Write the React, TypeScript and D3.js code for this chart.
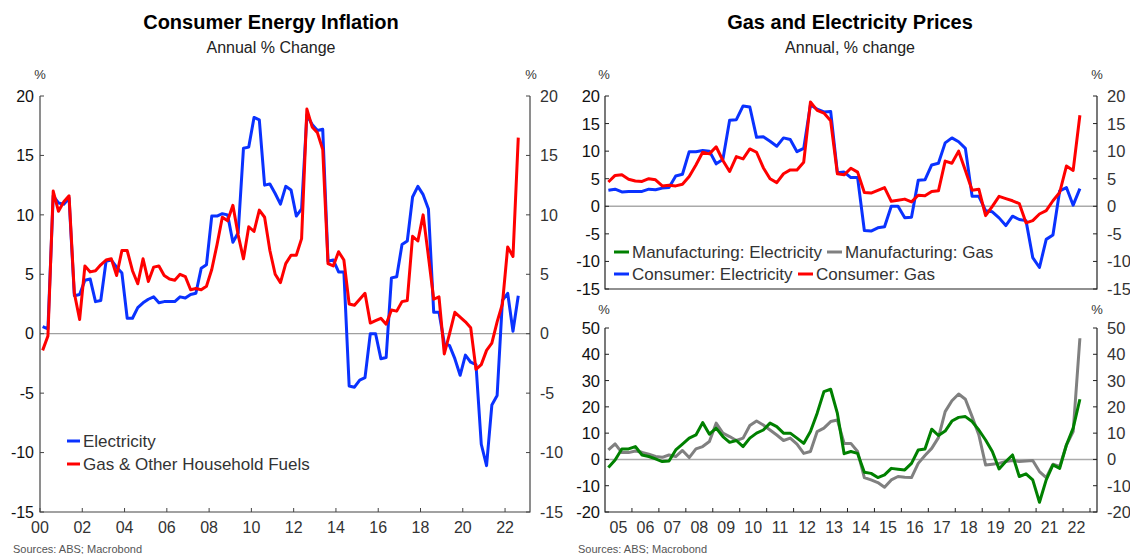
import { useRef, useEffect, RefObject } from 'react';
import * as d3 from 'd3';

// Quarterly, 2000Q1 .. 2022Q3 (annual % change)
const consumerElectricity: number[] = [
  0.6, 0.4, 11.6, 11.0, 10.9, 11.4, 3.2, 3.3, 4.5, 4.6, 2.7, 2.8, 6.1, 6.2, 5.6, 5.1,
  1.3, 1.3, 2.2, 2.6, 2.9, 3.1, 2.6, 2.7, 2.7, 2.7, 3.1, 3.0, 3.3, 3.4, 5.5, 5.8,
  9.9, 9.9, 10.1, 10.0, 7.7, 8.5, 15.6, 15.7, 18.2, 18.0, 12.5, 12.6, 11.8, 10.9, 12.4, 12.1,
  9.9, 10.5, 18.4, 17.6, 17.1, 17.2, 6.1, 6.2, 5.2, 5.2, -4.4, -4.5, -3.9, -3.7, 0.0, 0.0,
  -2.1, -2.0, 4.7, 4.8, 7.5, 7.8, 11.5, 12.4, 11.7, 10.5, 1.8, 1.8, -0.8, -1.0, -2.1, -3.5,
  -1.8, -2.4, -2.6, -9.3, -11.1, -6.0, -5.2, 2.8, 3.4, 0.2, 3.2,
];
const consumerGas: number[] = [
  -1.4, -0.2, 12.0, 10.3, 11.1, 11.6, 3.4, 1.2, 5.7, 5.2, 5.3, 5.8, 6.2, 6.3, 4.9, 7.0,
  7.0, 5.3, 4.2, 6.3, 4.4, 5.6, 5.7, 4.9, 4.6, 4.5, 5.0, 4.8, 3.7, 3.8, 3.7, 4.0,
  5.4, 7.5, 9.8, 9.5, 10.8, 8.3, 6.3, 9.0, 8.6, 10.4, 9.8, 7.0, 5.0, 4.3, 5.9, 6.6,
  6.6, 8.0, 18.9, 17.4, 16.9, 15.5, 5.9, 5.7, 6.9, 6.2, 2.5, 2.4, 2.9, 3.4, 0.9, 1.1,
  1.3, 0.8, 2.0, 1.9, 2.7, 2.8, 8.2, 7.8, 10.0, 6.5, 2.9, 3.1, -1.7, 0.0, 1.8, 1.4,
  1.0, 0.5, -3.0, -2.6, -1.4, -0.8, 1.0, 2.5, 7.3, 6.5, 16.5,
];
// Quarterly, 2005Q1 .. 2022Q3
const mfgElectricity: number[] = [
  -3.1, -0.2, 4.0, 4.0, 4.9, 1.7, 1.1, 0.2, -0.8, -0.6, 3.6, 5.8, 8.1, 9.3, 14.0, 9.6,
  11.9, 8.7, 6.5, 7.2, 4.9, 8.1, 10.0, 11.2, 13.8, 12.5, 10.0, 10.0, 8.1, 6.1, 10.6, 17.6,
  25.8, 26.7, 17.5, 2.2, 3.0, 2.3, -4.9, -5.3, -6.9, -5.9, -3.4, -3.7, -4.0, -1.5, 3.6, 4.0,
  11.5, 9.1, 10.8, 14.6, 16.0, 16.3, 14.4, 11.2, 7.4, 3.0, -3.6, -0.8, 1.7, -6.5, -5.5, -7.8,
  -16.3, -7.8, -2.1, -3.4, 5.5, 11.9, 22.9,
];
const mfgGas: number[] = [
  3.6, 5.9, 2.6, 2.6, 3.2, 2.7, 2.0, 1.1, 0.8, 1.7, 1.1, 3.4, 0.7, 4.0, 4.9, 6.8,
  13.8, 10.0, 8.7, 7.2, 8.1, 12.9, 14.6, 13.1, 11.2, 9.3, 7.2, 8.1, 5.8, 2.3, 3.0, 10.6,
  11.9, 14.4, 15.0, 6.1, 6.1, 3.0, -6.9, -7.8, -8.8, -10.6, -7.8, -6.5, -6.8, -6.9, -1.5, 1.5,
  4.2, 8.3, 18.2, 22.3, 24.9, 22.9, 16.3, 9.3, -2.1, -1.8, -1.5, -0.8, -0.4, -0.8, -0.6, -0.4,
  -4.6, -6.9, -1.8, -2.7, 5.5, 10.6, 46.1,
];

const leftYTicks: number[] = [-15, -10, -5, 0, 5, 10, 15, 20];
const leftXTicks: number[] = [2000, 2002, 2004, 2006, 2008, 2010, 2012, 2014, 2016, 2018, 2020, 2022];
const topYTicks: number[] = [-15, -10, -5, 0, 5, 10, 15, 20];
const bottomYTicks: number[] = [-20, -10, 0, 10, 20, 30, 40, 50];
const rightYears: number[] = d3.range(2005, 2023);

const FONT = "'Liberation Sans', Arial, Helvetica, sans-serif";
const BLUE = '#0a32ff';
const RED = '#ff0000';
const GREEN = '#008000';
const GREY = '#808080';

type Pt = [number, number];
const toSeries = (vals: number[], startYear: number): Pt[] =>
  vals.map((v, i) => [startYear + i * 0.25 + 0.125, v]);

const Chart = () => {
  const svgRef: RefObject<SVGSVGElement> = useRef(null);

  useEffect(() => {
    const svg = d3.select(svgRef.current);
    svg.selectAll('*').remove();
    svg.attr('font-family', FONT);

    const axisColor = '#444';

    // ---------- Left chart ----------
    const xL = d3.scaleLinear().domain([2000, 2023.18]).range([40, 530]);
    const yL = d3.scaleLinear().domain([-15, 20]).range([512, 96]);
    const gl = svg.append('g');

    gl.append('text').attr('x', 271).attr('y', 29).attr('text-anchor', 'middle')
      .attr('font-size', 20).attr('font-weight', 'bold').text('Consumer Energy Inflation');
    gl.append('text').attr('x', 271).attr('y', 53).attr('text-anchor', 'middle')
      .attr('font-size', 16).attr('fill', '#222').text('Annual % Change');

    gl.append('line').attr('x1', xL.range()[0]).attr('x2', xL.range()[1])
      .attr('y1', yL(0)).attr('y2', yL(0)).attr('stroke', '#888').attr('stroke-width', 1);

    // axes frame
    gl.append('path')
      .attr('d', `M${xL.range()[0]},${yL(20)}V${yL(-15)}H${xL.range()[1]}V${yL(20)}`)
      .attr('fill', 'none').attr('stroke', axisColor).attr('stroke-width', 1.2);

    leftYTicks.forEach((t) => {
      gl.append('line').attr('x1', xL.range()[0]).attr('x2', xL.range()[0] + 4)
        .attr('y1', yL(t)).attr('y2', yL(t)).attr('stroke', axisColor);
      gl.append('line').attr('x1', xL.range()[1]).attr('x2', xL.range()[1] - 4)
        .attr('y1', yL(t)).attr('y2', yL(t)).attr('stroke', axisColor);
      gl.append('text').attr('x', 34).attr('y', yL(t)).attr('dy', '0.36em')
        .attr('text-anchor', 'end').attr('font-size', 16).attr('fill', '#111').text(String(t));
      gl.append('text').attr('x', 540).attr('y', yL(t)).attr('dy', '0.36em')
        .attr('text-anchor', 'start').attr('font-size', 16).attr('fill', '#333').text(String(t));
    });
    leftXTicks.forEach((t) => {
      gl.append('line').attr('x1', xL(t)).attr('x2', xL(t))
        .attr('y1', yL(-15)).attr('y2', yL(-15) - 4).attr('stroke', axisColor);
      gl.append('text').attr('x', xL(t)).attr('y', 533).attr('text-anchor', 'middle')
        .attr('font-size', 16).attr('fill', '#333').text(String(t % 100).padStart(2, '0'));
    });
    gl.append('text').attr('x', 40).attr('y', 79).attr('text-anchor', 'middle')
      .attr('font-size', 13).attr('fill', '#333').text('%');
    gl.append('text').attr('x', 531).attr('y', 79).attr('text-anchor', 'middle')
      .attr('font-size', 13).attr('fill', '#333').text('%');

    const lineL = d3.line<Pt>().x((d) => xL(d[0])).y((d) => yL(d[1])).curve(d3.curveLinear);
    gl.append('path').attr('d', lineL(toSeries(consumerElectricity, 2000)))
      .attr('fill', 'none').attr('stroke', BLUE).attr('stroke-width', 3).attr('stroke-linejoin', 'round');
    gl.append('path').attr('d', lineL(toSeries(consumerGas, 2000)))
      .attr('fill', 'none').attr('stroke', RED).attr('stroke-width', 3).attr('stroke-linejoin', 'round');

    const legL = [
      { label: 'Electricity', color: BLUE, y: 441 },
      { label: 'Gas & Other Household Fuels', color: RED, y: 464 },
    ];
    legL.forEach((l) => {
      gl.append('line').attr('x1', 67).attr('x2', 80).attr('y1', l.y).attr('y2', l.y)
        .attr('stroke', l.color).attr('stroke-width', 3);
      gl.append('text').attr('x', 83).attr('y', l.y).attr('dy', '0.36em')
        .attr('font-size', 17).attr('fill', '#333').text(l.label);
    });
    gl.append('text').attr('x', 13).attr('y', 553).attr('font-size', 11).attr('fill', '#555')
      .text('Sources: ABS; Macrobond');

    // ---------- Right charts ----------
    const xR = d3.scaleLinear().domain([2005, 2023.26]).range([605, 1097]);
    const yT = d3.scaleLinear().domain([-15, 20]).range([289, 96]);
    const yB = d3.scaleLinear().domain([-20, 50]).range([512, 328]);
    const gr = svg.append('g');

    gr.append('text').attr('x', 850).attr('y', 29).attr('text-anchor', 'middle')
      .attr('font-size', 20).attr('font-weight', 'bold').text('Gas and Electricity Prices');
    gr.append('text').attr('x', 850).attr('y', 53).attr('text-anchor', 'middle')
      .attr('font-size', 16).attr('fill', '#222').text('Annual, % change');

    const [x0, x1] = xR.range();
    const panel = (y: d3.ScaleLinear<number, number>, ticks: number[], top: number) => {
      gr.append('line').attr('x1', x0).attr('x2', x1).attr('y1', y(0)).attr('y2', y(0))
        .attr('stroke', '#aaa').attr('stroke-width', 1.5);
      const [lo, hi] = y.domain();
      gr.append('path').attr('d', `M${x0},${y(hi)}V${y(lo)}H${x1}V${y(hi)}`)
        .attr('fill', 'none').attr('stroke', '#222').attr('stroke-width', 1.2);
      ticks.forEach((t) => {
        gr.append('line').attr('x1', x0).attr('x2', x0 + 4).attr('y1', y(t)).attr('y2', y(t))
          .attr('stroke', '#222');
        gr.append('line').attr('x1', x1).attr('x2', x1 - 4).attr('y1', y(t)).attr('y2', y(t))
          .attr('stroke', '#222');
        gr.append('text').attr('x', 600).attr('y', y(t)).attr('dy', '0.36em')
          .attr('text-anchor', 'end').attr('font-size', 16.5).attr('fill', '#111').text(String(t));
        gr.append('text').attr('x', 1107).attr('y', y(t)).attr('dy', '0.36em')
          .attr('text-anchor', 'start').attr('font-size', 16.5).attr('fill', '#333').text(String(t));
      });
      gr.append('text').attr('x', 604).attr('y', top).attr('text-anchor', 'middle')
        .attr('font-size', 13).attr('fill', '#333').text('%');
      gr.append('text').attr('x', 1097).attr('y', top).attr('text-anchor', 'middle')
        .attr('font-size', 13).attr('fill', '#333').text('%');
    };
    panel(yT, topYTicks, 79);
    panel(yB, bottomYTicks, 314);

    rightYears.forEach((yr) => {
      if (yr > 2005) {
        gr.append('line').attr('x1', xR(yr)).attr('x2', xR(yr))
          .attr('y1', yB(-20)).attr('y2', yB(-20) - 4).attr('stroke', '#222');
      }
      gr.append('text').attr('x', xR(yr + 0.5)).attr('y', 533).attr('text-anchor', 'middle')
        .attr('font-size', 16).attr('fill', '#333').text(String(yr % 100).padStart(2, '0'));
    });
    gr.append('line').attr('x1', xR(2023)).attr('x2', xR(2023))
      .attr('y1', yB(-20)).attr('y2', yB(-20) - 4).attr('stroke', '#222');

    const lineT = d3.line<Pt>().x((d) => xR(d[0])).y((d) => yT(d[1]));
    const lineB = d3.line<Pt>().x((d) => xR(d[0])).y((d) => yB(d[1]));
    const from2005 = (s: Pt[]) => s.filter((d) => d[0] >= 2005);

    gr.append('path').attr('d', lineT(from2005(toSeries(consumerElectricity, 2000))))
      .attr('fill', 'none').attr('stroke', BLUE).attr('stroke-width', 3).attr('stroke-linejoin', 'round');
    gr.append('path').attr('d', lineT(from2005(toSeries(consumerGas, 2000))))
      .attr('fill', 'none').attr('stroke', RED).attr('stroke-width', 3).attr('stroke-linejoin', 'round');
    gr.append('path').attr('d', lineB(toSeries(mfgGas, 2005)))
      .attr('fill', 'none').attr('stroke', GREY).attr('stroke-width', 3).attr('stroke-linejoin', 'round');
    gr.append('path').attr('d', lineB(toSeries(mfgElectricity, 2005)))
      .attr('fill', 'none').attr('stroke', GREEN).attr('stroke-width', 3).attr('stroke-linejoin', 'round');

    const legR = [
      { label: 'Manufacturing: Electricity', color: GREEN, x: 614, y: 252 },
      { label: 'Manufacturing: Gas', color: GREY, x: 827, y: 252 },
      { label: 'Consumer: Electricity', color: BLUE, x: 614, y: 274 },
      { label: 'Consumer: Gas', color: RED, x: 798, y: 274 },
    ];
    legR.forEach((l) => {
      gr.append('line').attr('x1', l.x).attr('x2', l.x + 15).attr('y1', l.y).attr('y2', l.y)
        .attr('stroke', l.color).attr('stroke-width', 3);
      gr.append('text').attr('x', l.x + 18).attr('y', l.y).attr('dy', '0.36em')
        .attr('font-size', 17).attr('fill', '#333').text(l.label);
    });
    gr.append('text').attr('x', 578).attr('y', 553).attr('font-size', 11).attr('fill', '#555')
      .text('Sources: ABS; Macrobond');
  }, []);

  return (
    <svg
      ref={svgRef}
      width={1130}
      height={554}
      style={{ position: 'absolute', left: 0, top: 0, background: '#fff' }}
    ></svg>
  );
};

export default function App() {
  return <Chart />;
}
